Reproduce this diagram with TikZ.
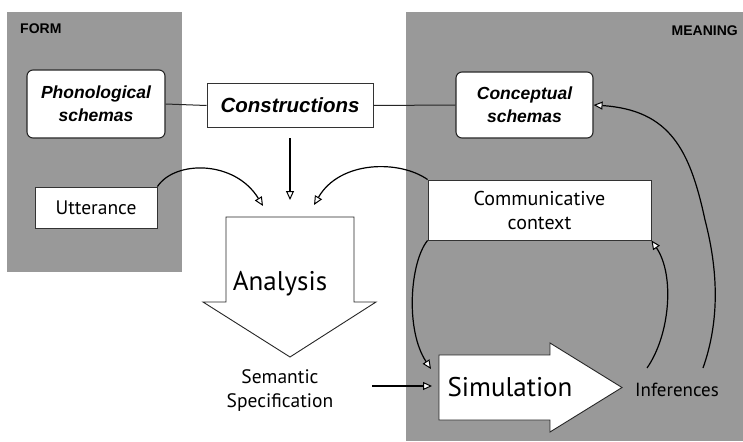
\documentclass[tikz,border=0pt]{standalone}
\usepackage{fontspec}
\setmainfont{PT Sans}
\newfontfamily\headfont{Liberation Sans}
\usetikzlibrary{arrows.meta}
\definecolor{panelgray}{gray}{0.6}
\begin{document}
\begin{tikzpicture}[x=1pt,y=-1pt,
  panel/.style={fill=panelgray,draw=none},
  schema/.style={draw=black!85,line width=1.1pt,fill=white,rounded corners=6pt,
    align=center,font=\headfont\bfseries\itshape\fontsize{17.5}{23}\selectfont,inner sep=0pt},
  plainbox/.style={draw=black!80,line width=0.9pt,fill=white,align=center,inner sep=0pt,
    font=\fontsize{19.5}{22}\selectfont},
  label/.style={font=\headfont\bfseries\fontsize{14}{14}\selectfont,inner sep=0pt},
  blockarrow/.style={draw=black!85,line width=0.9pt,fill=white,line join=miter},
  link/.style={draw=black!85,line width=1pt},
  arr/.style={draw=black,line width=1.2pt,-{Triangle[length=9pt,width=8pt,fill=white,line width=1pt]}}
]
% page frame
\useasboundingbox (0,0) rectangle (743,441);
\fill[white] (0,0) rectangle (743,441);

% the two shaded regions
\path[panel] (7,12) rectangle (182,272);
\path[panel] (406,12) rectangle (743,441);
\node[label,anchor=north west] (form) at (20,24) {FORM};
\node[label,anchor=north east] (meaning) at (738,26) {MEANING};

% schema boxes and the constructions box
\node[schema,minimum width=138pt,minimum height=68pt] (phon) at (96,104) {Phonological\\schemas};
\node[schema,minimum width=137pt,minimum height=66pt] (conc) at (524.5,105) {Conceptual\\schemas};
\node[draw=black!80,line width=1pt,fill=white,minimum width=166pt,minimum height=43pt,inner sep=0pt,
  font=\headfont\bfseries\itshape\fontsize{20.5}{24}\selectfont] (cons) at (290,105.5) {Constructions};
\draw[link] (phon.east) -- (cons.west);
\draw[link] (cons.east) -- (conc.west);

% inputs
\node[plainbox,minimum width=122pt,minimum height=41pt] (utt) at (96,207.5) {Utterance};
\node[plainbox,minimum width=223pt,minimum height=60pt,font=\fontsize{20}{24}\selectfont] (comm) at (539.5,210) {Communicative\\context};

% analysis block arrow
\coordinate (anaTip) at (290,357);
\path[blockarrow] (226,217) -- (354,217) -- (354,302) -- (376,302) -- (anaTip) -- (203,302) -- (226,302) -- cycle;
\node[anchor=base,font=\fontsize{27}{30}\selectfont,inner sep=0pt] (ana) at (280,290) {Analysis};

% targets of the three converging arrows
\coordinate (inL) at (263,206);
\coordinate (inA) at (290,200);
\coordinate (inR) at (314,205);
\coordinate (consOut) at (290,138);
\draw[arr] (consOut) -- (inA);
\draw[arr] (utt.north east) .. controls (175,160) and (235,160) .. (inL);
\draw[arr] (comm.north west) .. controls (400,160) and (340,160) .. (inR);

% semantic specification
\node[align=center,font=\fontsize{19.5}{24}\selectfont,inner sep=0pt] (sem) at (280,391) {Semantic\\Specification};

% simulation block arrow
\coordinate (simTip) at (622,387.5);
\path[blockarrow] (439,355) -- (550,355) -- (550,343) -- (simTip) -- (550,432) -- (550,420) -- (439,420) -- cycle;
\node[anchor=base,font=\fontsize{27}{30}\selectfont,inner sep=0pt] (sim) at (510,396) {Simulation};
\coordinate (semOut) at (372,386);
\coordinate (simIn) at (432,386);
\draw[arr] (semOut) -- (simIn);

% inferences and the feedback loops
\node[anchor=base,font=\fontsize{19}{22}\selectfont,inner sep=0pt] (inf) at (677,396) {Inferences};
\coordinate (simTop) at (431,369);
\draw[arr] (comm.south west) .. controls (410,262) and (405,330) .. (simTop);
\coordinate (infL) at (647,368);
\draw[arr] (infL) .. controls (670,335) and (675,275) .. (comm.south east);
\coordinate (infR) at (703,368);
\draw[arr] (infR) .. controls (720,320) and (718,270) .. (705,220) .. controls (690,150) and (670,110) .. (conc.east);
\end{tikzpicture}
\end{document}
